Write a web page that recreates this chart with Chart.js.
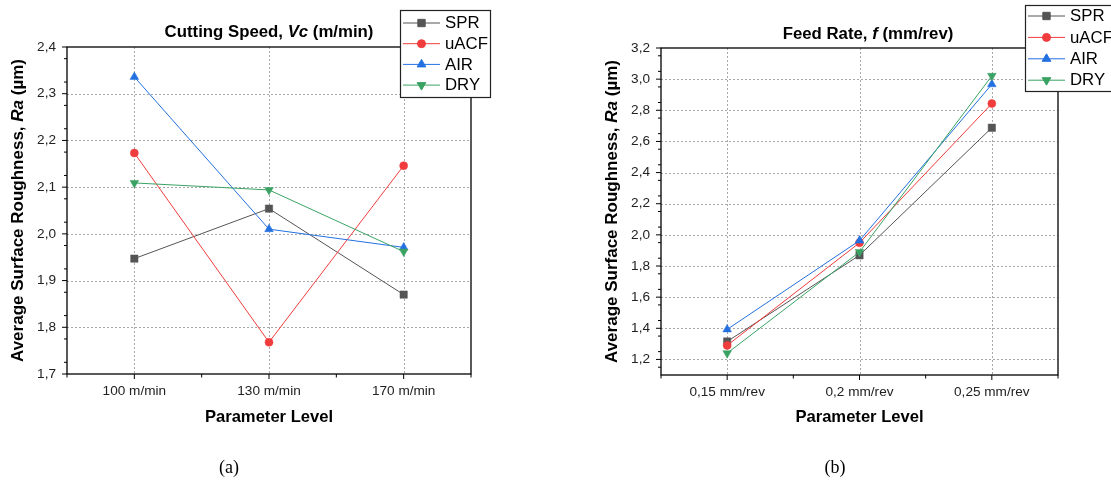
<!DOCTYPE html>
<html>
<head>
<meta charset="utf-8">
<script src="https://cdn.jsdelivr.net/npm/chart.js@4.4.1/dist/chart.umd.min.js"></script>
<style>
  html, body { margin: 0; padding: 0; background: #fff; }
  body { width: 1111px; height: 482px; position: relative; overflow: hidden; }
  canvas { position: absolute; top: 0; }
  #chartA { left: 0; }
  #chartB { left: 555px; }
  .cap { position: absolute; top: 457px; line-height: 20px; font-family: "Liberation Serif", "Times New Roman", serif;
         font-size: 18px; color: #000; transform: translateX(-50%); white-space: nowrap; }
</style>
</head>
<body>
<canvas id="chartA" width="555" height="482" style="width:555px;height:482px"></canvas>
<canvas id="chartB" width="556" height="482" style="width:556px;height:482px"></canvas>
<div class="cap" style="left:229px">(a)</div>
<div class="cap" style="left:835px">(b)</div>
<script>
// Surface roughness Ra (µm) for each cooling condition
const seriesNames = ['SPR', 'uACF', 'AIR', 'DRY'];

// Panel (a): cutting speed levels
const speedLevels = ['100 m/min', '130 m/min', '170 m/min'];
const speedSPR  = [1.947, 2.054, 1.870];
const speedUACF = [2.173, 1.768, 2.146];
const speedAIR  = [2.336, 2.010, 1.971];
const speedDRY  = [2.109, 2.094, 1.962];
const speedTicks = [1.7, 1.8, 1.9, 2.0, 2.1, 2.2, 2.3, 2.4];

// Panel (b): feed rate levels
const feedLevels = ['0,15 mm/rev', '0,2 mm/rev', '0,25 mm/rev'];
const feedSPR  = [1.315, 1.869, 2.688];
const feedUACF = [1.290, 1.949, 2.843];
const feedAIR  = [1.393, 1.963, 2.967];
const feedDRY  = [1.240, 1.890, 3.021];
const feedTicks = [1.2, 1.4, 1.6, 1.8, 2.0, 2.2, 2.4, 2.6, 2.8, 3.0, 3.2];

const SANS = '"Liberation Sans", Arial, sans-serif';
const TICK_FONT = 13.6;
const seriesStyle = [
  { color: '#555555', point: 'rect',     rot: 0,   r: 5.2 },
  { color: '#f03c3c', point: 'circle',   rot: 0,   r: 4.0 },
  { color: '#2370e0', point: 'triangle', rot: 0,   r: 5.0 },
  { color: '#3aa364', point: 'triangle', rot: 180, r: 5.0 }
];

function fmt(v) { return v.toFixed(1).replace('.', ','); }

function makeDatasets(values) {
  return values.map((vals, i) => {
    const s = seriesStyle[i];
    return {
      label: seriesNames[i],
      data: vals,
      borderColor: s.color,
      backgroundColor: s.color,
      borderWidth: 1,
      pointStyle: s.point,
      rotation: s.rot,
      pointRadius: s.r,
      pointHoverRadius: s.r,
      pointBackgroundColor: s.color,
      pointBorderColor: s.color,
      pointBorderWidth: 0.5,
      tension: 0,
      order: values.length - i
    };
  });
}

// Draws a run of text pieces (some italic) centred on (cx, cy)
function richText(ctx, runs, cx, cy, size) {
  const fonts = runs.map(r => (r.i ? 'italic ' : '') + 'bold ' + size + 'px ' + SANS);
  let total = 0;
  const widths = runs.map((r, k) => { ctx.font = fonts[k]; const w = ctx.measureText(r.t).width; total += w; return w; });
  let x = cx - total / 2;
  ctx.textBaseline = 'middle';
  ctx.textAlign = 'left';
  runs.forEach((r, k) => { ctx.font = fonts[k]; ctx.fillText(r.t, x, cy); x += widths[k]; });
}

const originFrame = {
  id: 'originFrame',
  beforeDatasetsDraw(chart, args, o) {
    const { ctx, chartArea: a, scales: { x, y } } = chart;
    ctx.save();
    ctx.strokeStyle = '#a8a8a8';
    ctx.lineWidth = 1;
    ctx.setLineDash([2, 2]);
    ctx.beginPath();
    x.ticks.forEach((t, i) => {
      const px = Math.round(x.getPixelForTick(i)) + 0.5;
      ctx.moveTo(px, a.top); ctx.lineTo(px, a.bottom);
    });
    o.major.forEach(v => {
      const py = Math.round(y.getPixelForValue(v)) + 0.5;
      if (py > a.top + 2 && py < a.bottom - 2) { ctx.moveTo(a.left, py); ctx.lineTo(a.right, py); }
    });
    ctx.stroke();
    ctx.restore();
  },
  afterDraw(chart, args, o) {
    const { ctx, chartArea: a, scales: { x, y } } = chart;
    ctx.save();
    // plot frame
    ctx.strokeStyle = '#000';
    ctx.lineWidth = 1.3;
    ctx.strokeRect(a.left, a.top, a.right - a.left, a.bottom - a.top);
    // y-axis ticks (outward)
    ctx.lineWidth = 1;
    ctx.beginPath();
    o.major.forEach(v => { const py = y.getPixelForValue(v); ctx.moveTo(a.left - 5, py); ctx.lineTo(a.left, py); });
    o.minor.forEach(v => { const py = y.getPixelForValue(v); ctx.moveTo(a.left - 3, py); ctx.lineTo(a.left, py); });
    // x-axis ticks (outward): categories are major, the halfway positions minor
    const n = x.ticks.length;
    for (let i = 0; i < n; i++) {
      const px = x.getPixelForTick(i);
      ctx.moveTo(px, a.bottom); ctx.lineTo(px, a.bottom + 5);
    }
    const step = (a.right - a.left) / n;
    for (let i = 0; i <= n; i++) {
      const px = a.left + i * step;
      ctx.moveTo(px, a.bottom); ctx.lineTo(px, a.bottom + 3.5);
    }
    ctx.stroke();

    // titles
    ctx.fillStyle = '#000';
    richText(ctx, o.title, o.titleX, o.titleY, 16.8);
    ctx.save();
    ctx.translate(o.yTitleX, (a.top + a.bottom) / 2);
    ctx.rotate(-Math.PI / 2);
    richText(ctx, [{ t: 'Average Surface Roughness, ' }, { t: 'Ra', i: true }, { t: ' (µm)' }], 0, 0, 17);
    ctx.restore();
    richText(ctx, [{ t: 'Parameter Level' }], (a.left + a.right) / 2, o.xTitleY, 16.6);

    // legend box
    const L = o.legend;
    ctx.fillStyle = '#fff';
    ctx.fillRect(L.x, L.y, L.w, L.h);
    ctx.strokeStyle = '#222';
    ctx.lineWidth = 1.2;
    ctx.strokeRect(L.x + 0.5, L.y + 0.5, L.w, L.h);
    chart.data.datasets.forEach((ds, i) => {
      const ry = L.y + L.row0 + i * L.rowGap;
      ctx.strokeStyle = ds.borderColor;
      ctx.lineWidth = 1;
      ctx.beginPath(); ctx.moveTo(L.x + 3, ry); ctx.lineTo(L.x + 40, ry); ctx.stroke();
      ctx.fillStyle = ds.borderColor;
      Chart.helpers.drawPoint(ctx, { pointStyle: ds.pointStyle, rotation: ds.rotation, radius: ds.pointRadius, borderWidth: 0.5 }, L.x + 21.5, ry);
      ctx.fillStyle = '#000';
      ctx.font = '16.8px ' + SANS;
      ctx.textAlign = 'left';
      ctx.textBaseline = 'middle';
      ctx.fillText(ds.label, L.x + 45, ry + 0.5);
    });
    ctx.restore();
  }
};

function buildChart(id, levels, values, ticks, yMin, yMax, geom) {
  const minor = [];
  const half = (ticks[1] - ticks[0]) / 2;
  for (let v = yMin + half / 2; v < yMax; v += half) {
    const r = Math.round(v * 1000) / 1000;
    if (!ticks.some(t => Math.abs(t - r) < 1e-6) && r > yMin + 1e-6) minor.push(r);
  }
  return new Chart(document.getElementById(id), {
    type: 'line',
    data: { labels: levels, datasets: makeDatasets(values) },
    plugins: [originFrame],
    options: {
      responsive: false,
      animation: false,
      events: [],
      layout: { padding: geom.padding },
      plugins: {
        legend: { display: false },
        tooltip: { enabled: false },
        originFrame: Object.assign({ major: ticks, minor: minor }, geom.deco)
      },
      scales: {
        x: {
          type: 'category',
          offset: true,
          grid: { display: false, drawTicks: false },
          border: { display: false },
          ticks: { color: '#222', font: { family: SANS, size: TICK_FONT }, padding: 9, maxRotation: 0, autoSkip: false },
          afterFit: s => { s.height = geom.xHeight; }
        },
        y: {
          min: yMin,
          max: yMax,
          grid: { display: false, drawTicks: false },
          border: { display: false },
          ticks: { color: '#222', font: { family: SANS, size: TICK_FONT }, padding: 11, callback: v => fmt(v) },
          afterBuildTicks: s => { s.ticks = ticks.map(v => ({ value: v })); },
          afterFit: s => { s.width = geom.yWidth; }
        }
      }
    }
  });
}

buildChart('chartA', speedLevels, [speedSPR, speedUACF, speedAIR, speedDRY], speedTicks, 1.7, 2.4, {
  padding: { left: 0, top: 47, right: 84, bottom: 0 },
  yWidth: 67,
  xHeight: 108,
  deco: {
    title: [{ t: 'Cutting Speed, ' }, { t: 'Vc', i: true }, { t: ' (m/min)' }],
    titleX: 269, titleY: 32,
    yTitleX: 18, xTitleY: 417,
    legend: { x: 400, y: 10, w: 90, h: 87, row0: 13, rowGap: 20.7 }
  }
});

buildChart('chartB', feedLevels, [feedSPR, feedUACF, feedAIR, feedDRY], feedTicks, 1.1, 3.2, {
  padding: { left: 0, top: 48, right: 53, bottom: 0 },
  yWidth: 106,
  xHeight: 107,
  deco: {
    title: [{ t: 'Feed Rate, ' }, { t: 'f', i: true }, { t: ' (mm/rev)' }],
    titleX: 313, titleY: 34.5,
    yTitleX: 57, xTitleY: 417,
    legend: { x: 470, y: 5, w: 100, h: 86, row0: 11, rowGap: 21.4 }
  }
});
</script>
</body>
</html>
